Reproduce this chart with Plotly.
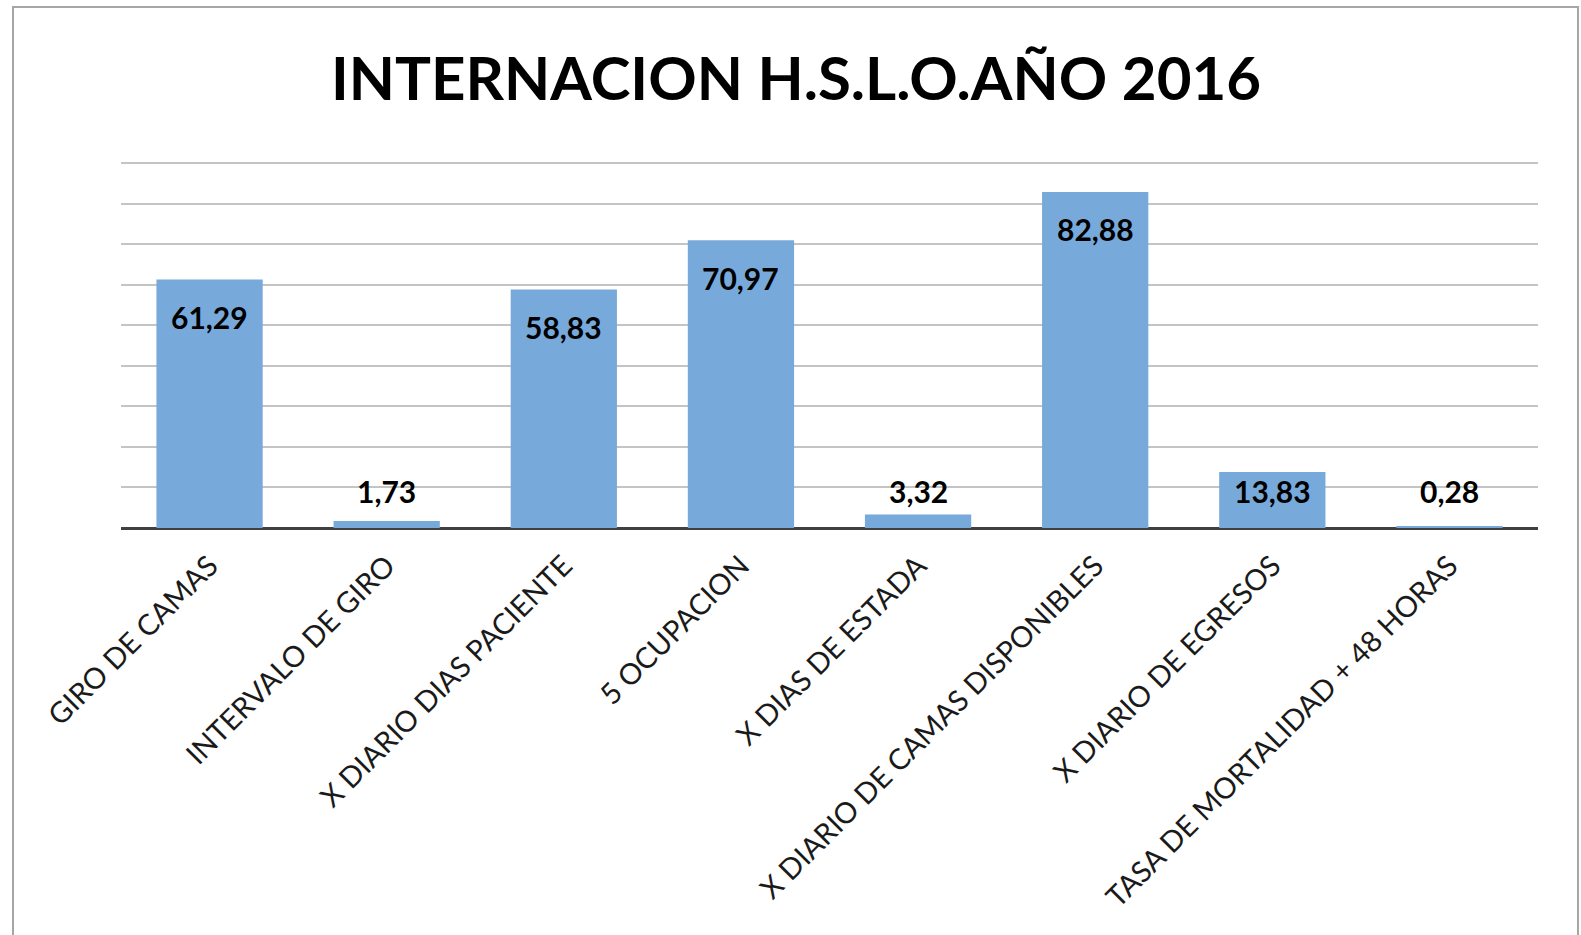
import plotly.graph_objects as go

categories = [
    "GIRO DE CAMAS",
    "INTERVALO DE GIRO",
    "X DIARIO DIAS PACIENTE",
    "5 OCUPACION",
    "X DIAS DE ESTADA",
    "X DIARIO DE CAMAS DISPONIBLES",
    "X DIARIO DE EGRESOS",
    "TASA DE MORTALIDAD + 48 HORAS",
]
values = [61.29, 1.73, 58.83, 70.97, 3.32, 82.88, 13.83, 0.28]
labels = ["61,29", "1,73", "58,83", "70,97", "3,32", "82,88", "13,83", "0,28"]
title_text = "INTERNACION H.S.L.O.AÑO 2016"

W, H = 1581, 935
ml, mr, mt, mb = 121, 43, 159, 407
pw, ph = W - ml - mr, H - mt - mb
px_per_unit = 365 / 90
ytop = ph / px_per_unit

fig = go.Figure()
fig.add_trace(go.Bar(
    x=categories, y=values,
    marker=dict(color="#77AADB", line=dict(width=0)),
    hoverinfo="skip",
))

# data labels: inside end, kept above the base for short bars
ann = []
for c, v, t in zip(categories, values, labels):
    ylab = max(v - 37.5 / px_per_unit, 37 / px_per_unit)
    ann.append(dict(x=c, y=ylab, xref="x", yref="y", text=t, showarrow=False,
                    xanchor="center", yanchor="middle",
                    font=dict(family="Lato", size=30, color="#000000", weight="bold")))

fig.update_layout(
    width=W, height=H,
    margin=dict(l=ml, r=mr, t=mt, b=mb, pad=0),
    paper_bgcolor="white", plot_bgcolor="white",
    showlegend=False,
    bargap=0.4,
    title=dict(text=title_text, x=796 / W, xanchor="center", xref="container",
               y=1 - 79 / H, yanchor="middle", yref="container",
               font=dict(family="Lato", size=60, color="#000000", weight="bold")),
    xaxis=dict(tickangle=-45, showgrid=False, showline=False, ticks="",
               tickfont=dict(family="Lato", size=29, color="#1a1a1a"),
               ticklabelstandoff=14, automargin=False,
               fixedrange=True),
    yaxis=dict(range=[0, ytop], tick0=0, dtick=10, showticklabels=False, ticks="",
               showgrid=True, gridcolor="#c4c4c4", gridwidth=2,
               zeroline=True, zerolinecolor="#404040", zerolinewidth=3,
               showline=False, fixedrange=True),
    annotations=ann,
)

# chart frame
x0 = (13 - ml) / pw
x1 = (1578 - ml) / pw
y1 = (H - mb - 7) / ph
y0 = (H - mb - 945) / ph
fig.add_shape(type="rect", xref="paper", yref="paper", x0=x0, x1=x1, y0=y0, y1=y1,
              line=dict(color="#a6a6a6", width=2), fillcolor="rgba(0,0,0,0)", layer="above")

fig.write_html("out.html", config={"displayModeBar": False},
               post_script="document.body.style.margin='0';document.body.style.overflow='hidden';")
